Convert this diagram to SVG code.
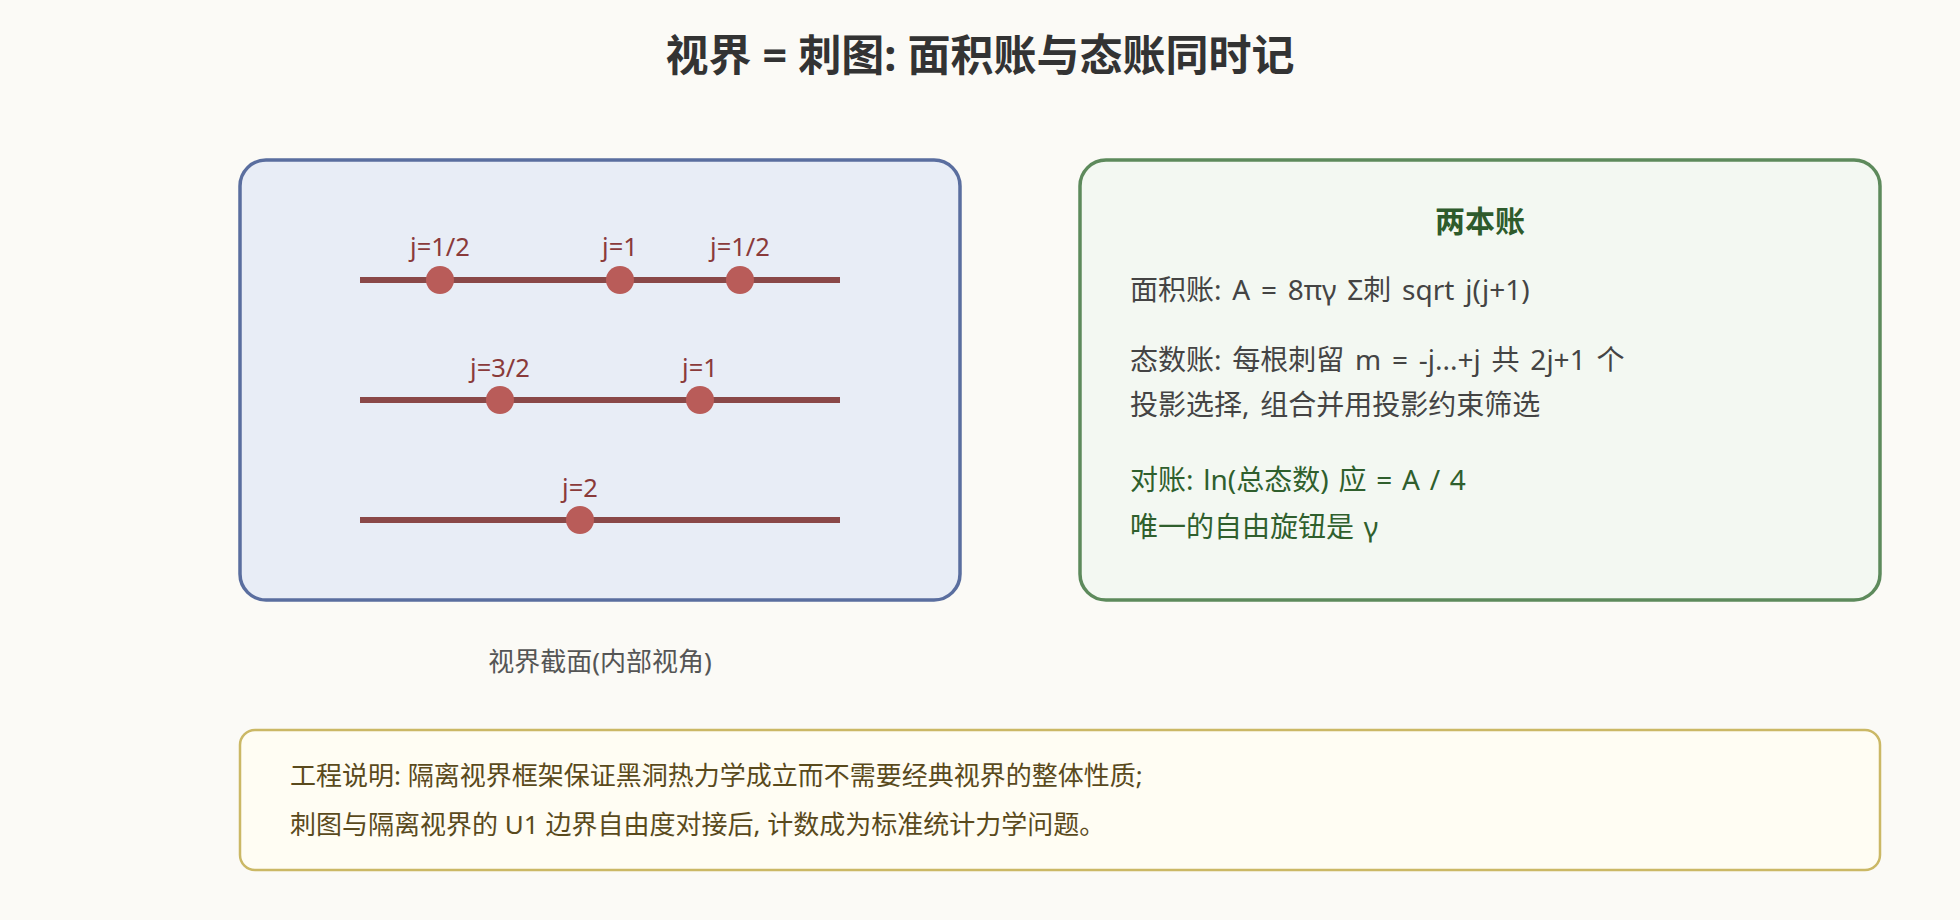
<svg xmlns="http://www.w3.org/2000/svg" width="1960" height="920" viewBox="0 0 1960 920">
  <style>
    text { font-family: "Noto Sans", "Noto Sans CJK SC", sans-serif; }
    .title { font-size: 43px; font-weight: bold; fill: #333333; text-anchor: middle; }
    .panel-blue { fill: #e8edf6; stroke: #5a6e9f; stroke-width: 3.5; }
    .panel-green { fill: #f3f8f2; stroke: #5d8a5c; stroke-width: 3.5; }
    .panel-yellow { fill: #fffdf3; stroke: #cbb865; stroke-width: 2.5; }
    .strand { stroke: #8a4848; stroke-width: 6; }
    .puncture { fill: #b95c59; }
    .jlabel { font-size: 25.5px; fill: #8a3a3a; text-anchor: middle; }
    .caption { font-size: 26px; fill: #555555; text-anchor: middle; }
    .head { font-size: 30px; font-weight: bold; fill: #2e5b2c; text-anchor: middle; }
    .body { font-size: 28px; fill: #444444; word-spacing: 3.5px; }
    .bodygreen { font-size: 28px; fill: #2f5f2d; word-spacing: 2.5px; }
    .note { font-size: 26px; fill: #5a4a1c; }
  </style>
  <rect width="1960" height="920" fill="#fbfaf6"/>
  <text class="title" x="980" y="71">视界 = 刺图: 面积账与态账同时记</text>

  <g id="horizon-slice">
    <rect class="panel-blue" x="240" y="160" width="720" height="440" rx="26" ry="26"/>
    <g id="strand-1">
      <line class="strand" x1="360" y1="280" x2="840" y2="280"/>
      <circle class="puncture" cx="440" cy="280" r="14"/>
      <circle class="puncture" cx="620" cy="280" r="14"/>
      <circle class="puncture" cx="740" cy="280" r="14"/>
      <text class="jlabel" x="440" y="256">j=1/2</text>
      <text class="jlabel" x="620" y="256">j=1</text>
      <text class="jlabel" x="740" y="256">j=1/2</text>
    </g>
    <g id="strand-2">
      <line class="strand" x1="360" y1="400" x2="840" y2="400"/>
      <circle class="puncture" cx="500" cy="400" r="14"/>
      <circle class="puncture" cx="700" cy="400" r="14"/>
      <text class="jlabel" x="500" y="377">j=3/2</text>
      <text class="jlabel" x="700" y="377">j=1</text>
    </g>
    <g id="strand-3">
      <line class="strand" x1="360" y1="520" x2="840" y2="520"/>
      <circle class="puncture" cx="580" cy="520" r="14"/>
      <text class="jlabel" x="580" y="497">j=2</text>
    </g>
    <text class="caption" x="600" y="671">视界截面(内部视角)</text>
  </g>

  <g id="two-ledgers">
    <rect class="panel-green" x="1080" y="160" width="800" height="440" rx="26" ry="26"/>
    <text class="head" x="1480" y="232">两本账</text>
    <text class="body" x="1130" y="300">面积账: A = 8πγ Σ刺 sqrt j(j+1)</text>
    <text class="body" x="1130" y="370">态数账: 每根刺留 m = -j...+j 共 2j+1 个</text>
    <text class="body" x="1130" y="415">投影选择, 组合并用投影约束筛选</text>
    <text class="bodygreen" x="1130" y="490">对账: ln(总态数) 应 = A / 4</text>
    <text class="bodygreen" x="1130" y="537">唯一的自由旋钮是 γ</text>
  </g>

  <g id="engineering-note">
    <rect class="panel-yellow" x="240" y="730" width="1640" height="140" rx="15" ry="15"/>
    <text class="note" x="290" y="785">工程说明: 隔离视界框架保证黑洞热力学成立而不需要经典视界的整体性质;</text>
    <text class="note" x="290" y="834">刺图与隔离视界的 U1 边界自由度对接后, 计数成为标准统计力学问题。</text>
  </g>

  <g id="connectors"></g>
</svg>
